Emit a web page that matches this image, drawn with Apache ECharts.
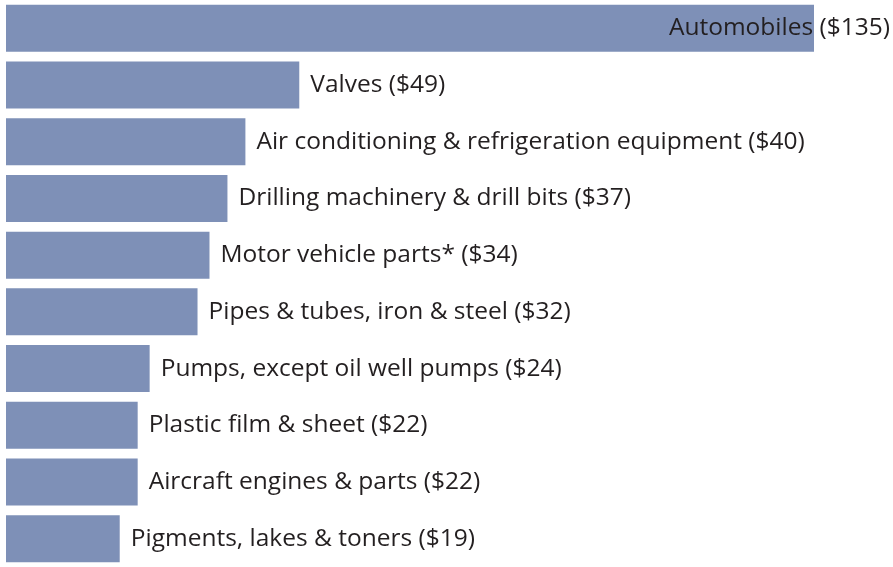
<!DOCTYPE html>
<html><head><meta charset="utf-8">
<script src="https://cdn.jsdelivr.net/npm/echarts@6/dist/echarts.min.js"></script>
<style>html,body{margin:0;padding:0;background:#fff}#c{width:893px;height:567px}</style>
</head><body><div id="c"></div>
<script>
const categories = ["Automobiles","Valves","Air conditioning & refrigeration equipment","Drilling machinery & drill bits","Motor vehicle parts*","Pipes & tubes, iron & steel","Pumps, except oil well pumps","Plastic film & sheet","Aircraft engines & parts","Pigments, lakes & toners"];
const values = [135,49,40,37,34,32,24,22,22,19];

const chart = echarts.init(document.getElementById('c'));
const data = values.map((v,i)=>{
  const d = {value:v};
  if(i===0){ d.label = {position:['100%','50%'], align:'right', verticalAlign:'middle', offset:[76,0]}; }
  return d;
});
chart.setOption({
  animation:false,
  grid:{left:6, top:0, width:808, height:573},
  xAxis:{type:'value', min:0, max:135, show:false},
  yAxis:{type:'category', data:categories, inverse:true, show:false},
  series:[{type:'bar', data:data, barWidth:47, itemStyle:{color:'#7e90b7'},
    label:{show:true, position:'right', distance:11, color:'#231f20', fontFamily:'Open Sans', fontSize:24.5,
      formatter:p=>categories[p.dataIndex]+' ($'+p.value+')'}}]
});
</script></body></html>
